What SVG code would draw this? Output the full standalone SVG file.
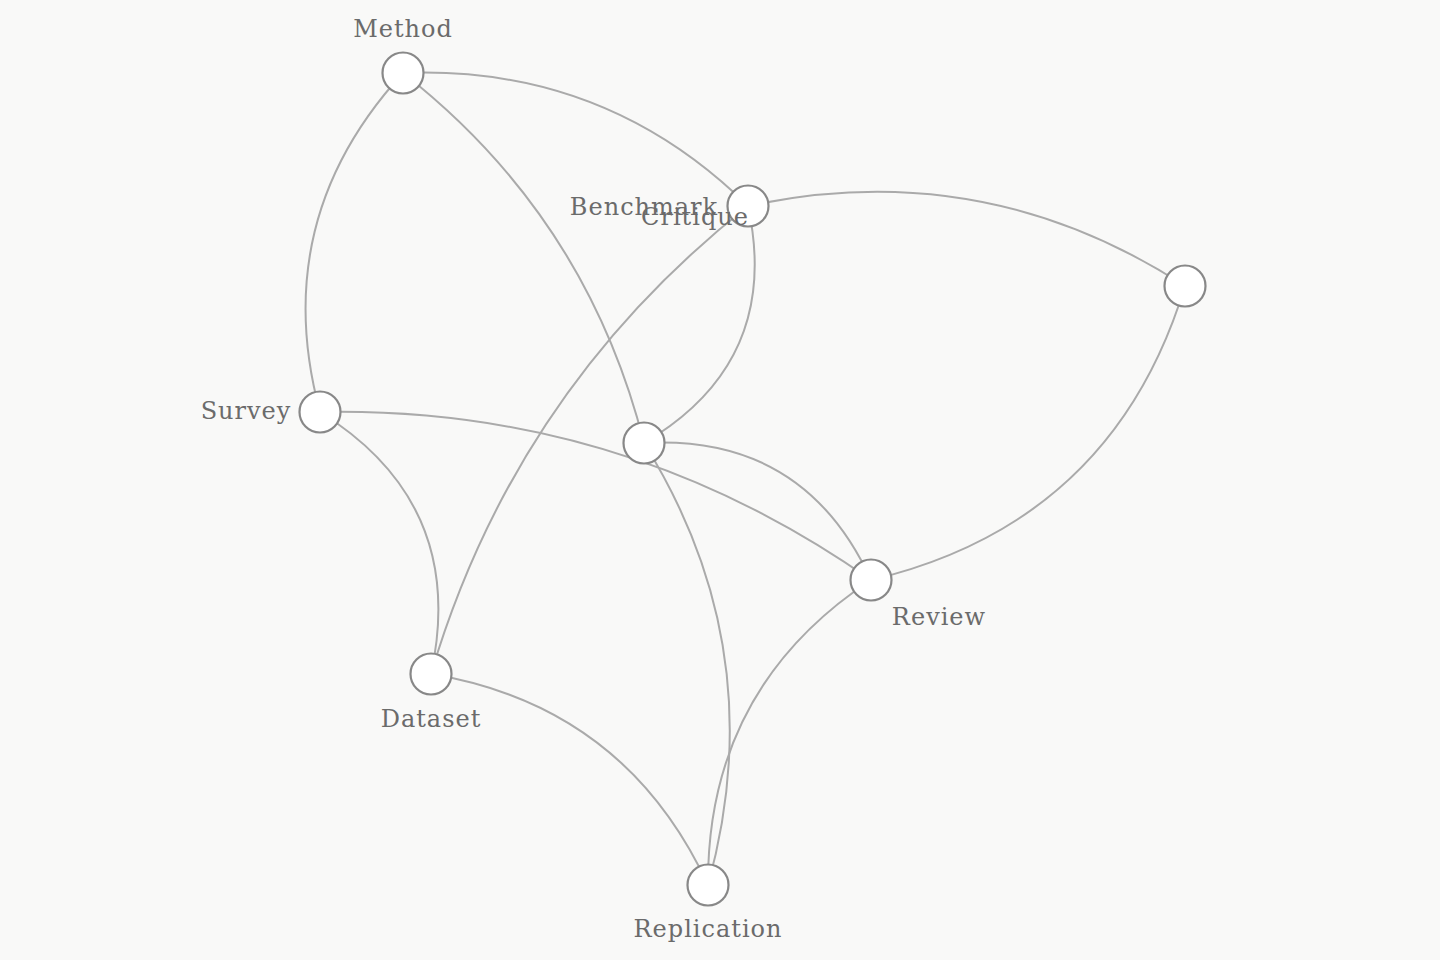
<svg xmlns="http://www.w3.org/2000/svg" width="1440" height="960" viewBox="0 0 1440 960">
<style>
.edge{fill:none;stroke:#aaaaaa;stroke-width:2}
.node circle{fill:#ffffff;stroke:#888888;stroke-width:2.2}
.node text{font-family:"DejaVu Serif","Liberation Serif",serif;font-size:24px;fill:#6b6b6b;letter-spacing:1px;text-anchor:middle}
</style>
<rect width="1440" height="960" fill="#f9f9f8"/>
<g id="connectors">
<path class="edge" d="M403,73 Q605,65 748,206"/>
<path class="edge" d="M403,73 Q587,217 644,443"/>
<path class="edge" d="M403,73 Q268,220 320,412"/>
<path class="edge" d="M748,206 Q983,155 1185,286"/>
<path class="edge" d="M748,206 Q515,390 431,674"/>
<path class="edge" d="M748,206 Q782,362 644,443"/>
<path class="edge" d="M320,412 Q623,406 871,580"/>
<path class="edge" d="M320,412 Q468,504 431,674"/>
<path class="edge" d="M644,443 Q804,434 871,580"/>
<path class="edge" d="M644,443 Q773,650 708,885"/>
<path class="edge" d="M871,580 Q1113,523 1185,286"/>
<path class="edge" d="M871,580 Q707,688 708,885"/>
<path class="edge" d="M431,674 Q625,706 708,885"/>
</g>
<g id="node-method" class="node"><circle cx="403" cy="73" r="20.5"/><text x="403" y="37">Method</text></g>
<g id="node-benchmark" class="node"><circle cx="748" cy="206" r="20.5"/><text x="644" y="215">Benchmark</text><text x="695" y="225">Critique</text></g>
<g id="node-survey" class="node"><circle cx="320" cy="412" r="20.5"/><text x="246" y="419">Survey</text></g>
<g id="node-hub" class="node"><circle cx="644" cy="443" r="20.5"/></g>
<g id="node-right" class="node"><circle cx="1185" cy="286" r="20.5"/></g>
<g id="node-review" class="node"><circle cx="871" cy="580" r="20.5"/><text x="939" y="625">Review</text></g>
<g id="node-dataset" class="node"><circle cx="431" cy="674" r="20.5"/><text x="431" y="727">Dataset</text></g>
<g id="node-replication" class="node"><circle cx="708" cy="885" r="20.5"/><text x="708" y="937">Replication</text></g>
</svg>
